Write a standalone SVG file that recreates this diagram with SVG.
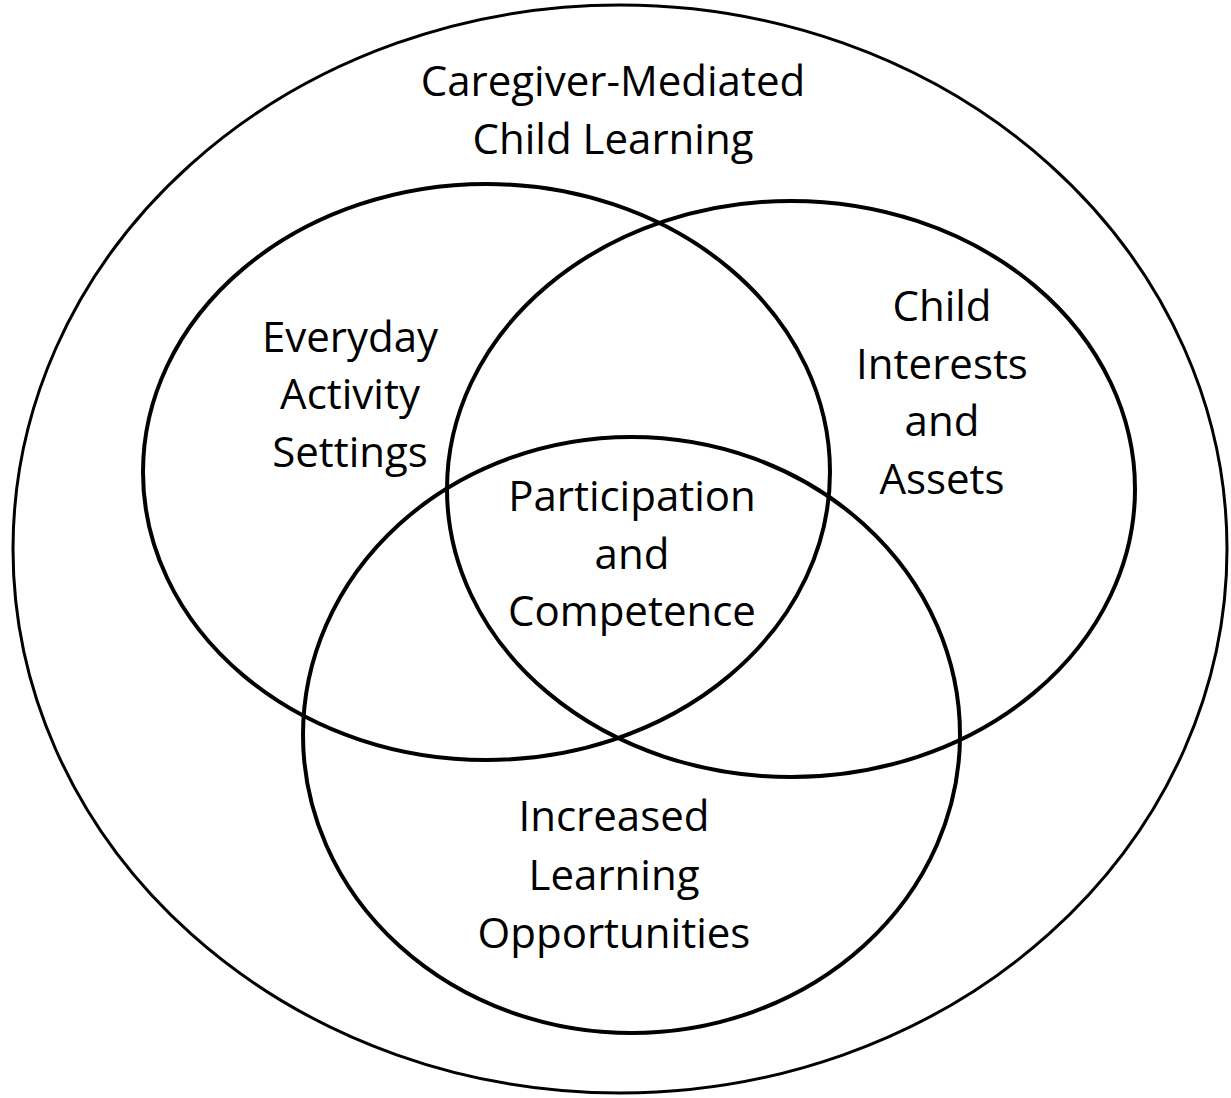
<svg xmlns="http://www.w3.org/2000/svg" width="1231" height="1098" viewBox="0 0 1231 1098">
<style>
.e{fill:none;stroke:#000;stroke-width:4}
.t{font-family:"Open Sans","Liberation Sans",sans-serif;font-size:42px;fill:#000;text-anchor:middle}
</style>
<rect width="1231" height="1098" fill="#fff"/>
<g id="outer">
<ellipse class="e" cx="620" cy="549" rx="607" ry="544" style="stroke-width:3"/>
<text class="t" x="613" y="96">Caregiver-Mediated</text>
<text class="t" x="613" y="154">Child Learning</text>
</g>
<g id="everyday">
<ellipse class="e" cx="486.5" cy="472" rx="343.5" ry="288"/>
<text class="t" x="350" y="352">Everyday</text>
<text class="t" x="350" y="409">Activity</text>
<text class="t" x="350" y="467">Settings</text>
</g>
<g id="interests">
<ellipse class="e" cx="791" cy="489" rx="344" ry="288"/>
<text class="t" x="942" y="321">Child</text>
<text class="t" x="942" y="379">Interests</text>
<text class="t" x="942" y="436">and</text>
<text class="t" x="942" y="494">Assets</text>
</g>
<g id="opportunities">
<ellipse class="e" cx="631.5" cy="735" rx="328.5" ry="298"/>
<text class="t" x="614" y="831">Increased</text>
<text class="t" x="614" y="890">Learning</text>
<text class="t" x="614" y="948">Opportunities</text>
</g>
<g id="center">
<text class="t" x="632" y="511">Participation</text>
<text class="t" x="632" y="569">and</text>
<text class="t" x="632" y="626">Competence</text>
</g>
<g id="connectors"></g>
</svg>
